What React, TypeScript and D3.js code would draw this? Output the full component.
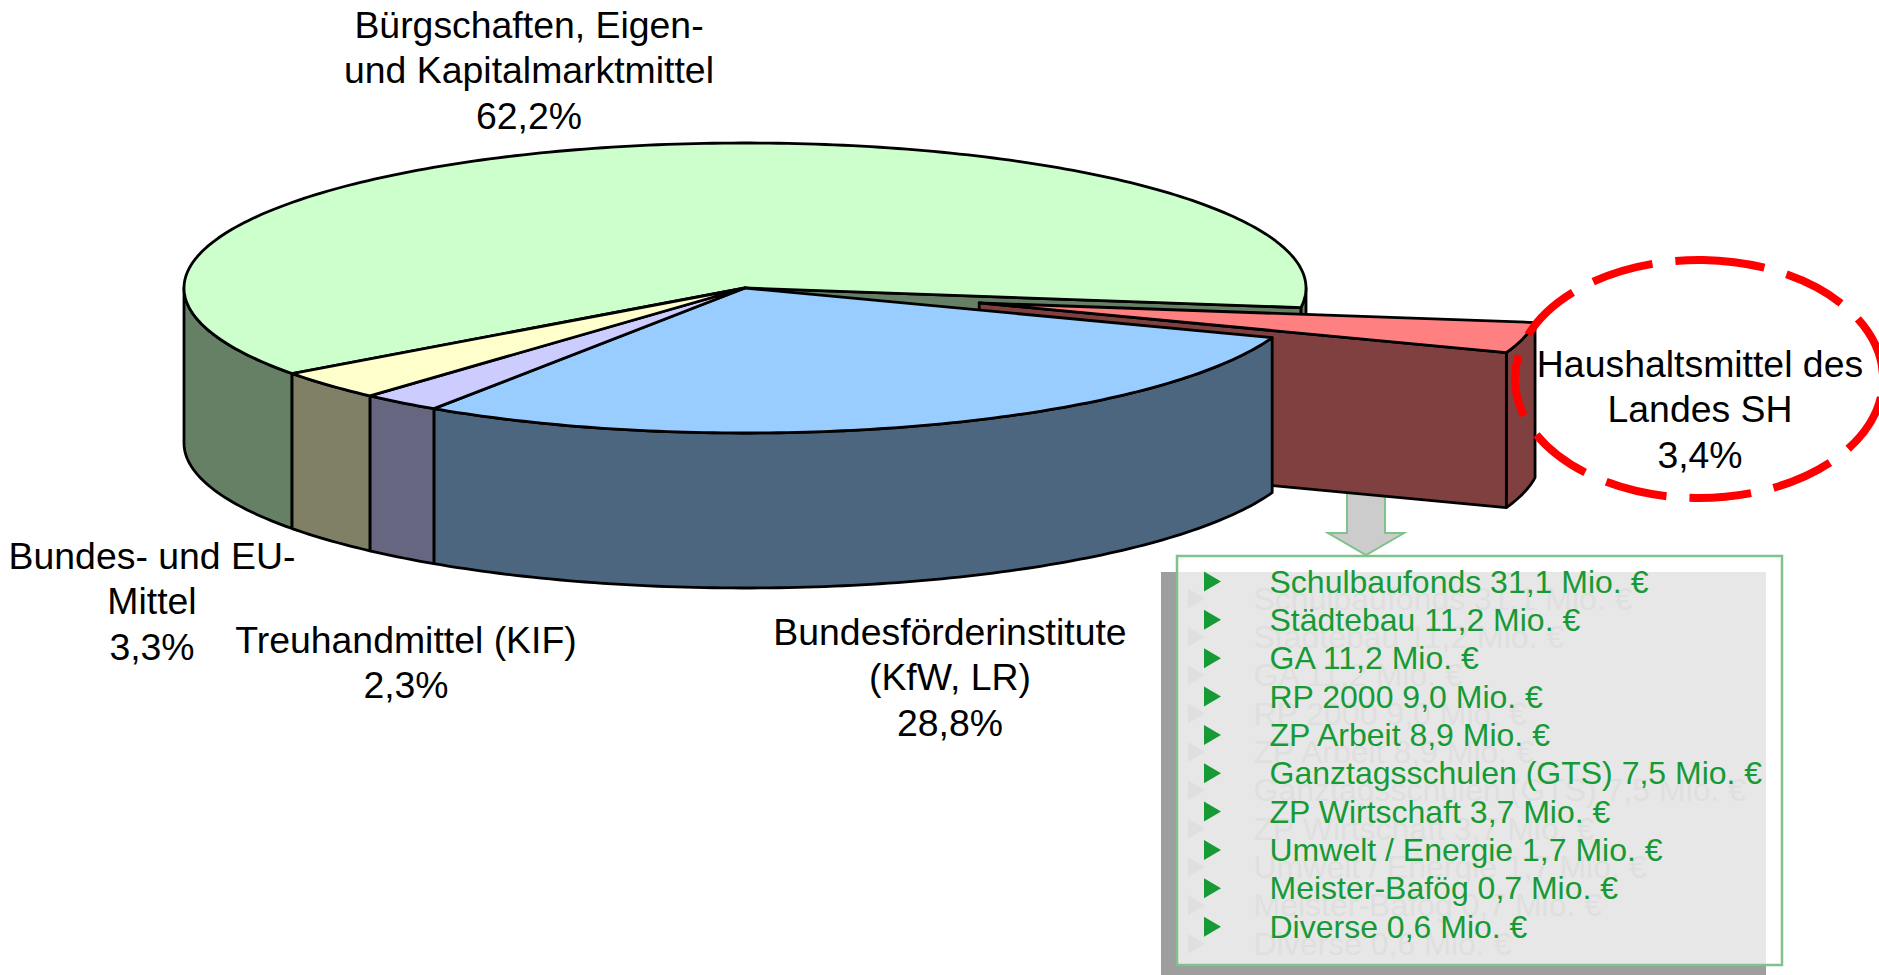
import React from "react";
import * as d3 from "d3";

const shares = [28.8, 2.3, 3.3, 62.2, 3.4];
const topColors = ["#99CCFF", "#CCCCFF", "#FFFFCC", "#CCFFCC", "#FF8080"];
const wallColors = ["#4D6680", "#666680", "#808066", "#668066", "#804040"];
const explodedIndex = 4;
const backIndex = 3;

const pieLabels = [
  ["Bundesförderinstitute", "(KfW, LR)", "28,8%"],
  ["Treuhandmittel (KIF)", "2,3%"],
  ["Bundes- und EU-", "Mittel", "3,3%"],
  ["Bürgschaften, Eigen-", "und Kapitalmarktmittel", "62,2%"],
  ["Haushaltsmittel des", "Landes SH", "3,4%"],
];
const labelCenterX = [950, 406, 152, 529, 1700];
const labelFirstY = [645, 653, 569, 38, 377];

const listItems = [
  "Schulbaufonds 31,1 Mio. €",
  "Städtebau 11,2 Mio. €",
  "GA 11,2 Mio. €",
  "RP 2000 9,0 Mio. €",
  "ZP Arbeit 8,9 Mio. €",
  "Ganztagsschulen (GTS) 7,5 Mio. €",
  "ZP Wirtschaft 3,7 Mio. €",
  "Umwelt / Energie 1,7 Mio. €",
  "Meister-Bafög 0,7 Mio. €",
  "Diverse 0,6 Mio. €",
];

const W = 1879, H = 975;
const cx = 745, cy = 288, rx = 561, ry = 145, depth = 155;
const explode = 0.43;
const startDeg = 20;
const FONT = "'Liberation Sans', Arial, sans-serif";

const pieGen = d3.pie<number>().sort(null).value((d) => d)
  .startAngle((startDeg * Math.PI) / 180)
  .endAngle(((startDeg + 360) * Math.PI) / 180);
const arcs = pieGen(shares);
const lineGen = d3.line<[number, number]>();

type P = [number, number];

function center(i: number): P {
  if (i !== explodedIndex) return [cx, cy];
  const m = (arcs[i].startAngle + arcs[i].endAngle) / 2;
  return [cx + explode * rx * Math.cos(m), cy + explode * ry * Math.sin(m)];
}
function rimPts(i: number, a0: number, a1: number, dy = 0): P[] {
  const [x, y] = center(i);
  const n = Math.max(2, Math.ceil(Math.abs(a1 - a0) * 60));
  return d3.range(n + 1).map((k) => {
    const a = a0 + ((a1 - a0) * k) / n;
    return [x + rx * Math.cos(a), y + ry * Math.sin(a) + dy] as P;
  });
}
function topPath(i: number) {
  return lineGen([center(i), ...rimPts(i, arcs[i].startAngle, arcs[i].endAngle)]) + "Z";
}
function wallPath(i: number, a0: number, a1: number) {
  return lineGen([...rimPts(i, a0, a1), ...rimPts(i, a0, a1, depth).reverse()]) + "Z";
}
function cutPath(i: number, a: number) {
  const c = center(i);
  const r = rimPts(i, a, a)[0];
  return lineGen([c, r, [r[0], r[1] + depth], [c[0], c[1] + depth]]) + "Z";
}
function walls(i: number): [number, number][] {
  const s = arcs[i].startAngle, e = arcs[i].endAngle, out: [number, number][] = [];
  [0, 2 * Math.PI].forEach((o) => {
    const a = Math.max(s, o), b = Math.min(e, o + Math.PI);
    if (b > a) out.push([a, b]);
  });
  return out;
}

function Slice({ i, cut }: { i: number; cut?: number }) {
  return (
    <g stroke="#000" strokeWidth={2.8} strokeLinejoin="round">
      {walls(i).map(([a, b], k) => (
        <path key={k} d={wallPath(i, a, b)} fill={wallColors[i]} />
      ))}
      {cut !== undefined && <path d={cutPath(i, cut)} fill={wallColors[i]} />}
      <path d={topPath(i)} fill={topColors[i]} />
    </g>
  );
}

const listX = 1269.5, listY0 = 592.5, listStep = 38.35;
const ringPath = "M1703,260 A184,119 0 1 1 1695,498 A184,119 0 1 1 1703,260";

export default function App() {
  return (
    <svg width={W} height={H} viewBox={`0 0 ${W} ${H}`}
      style={{ position: "fixed", left: 0, top: 0, background: "#fff" }} fontFamily={FONT}>
      <path d="M1347,488 V533 H1328 L1366,555 L1404,533 H1385 V488 Z" fill="#CCCCCC" stroke="#7FC28A" strokeWidth={2} />
      <Slice i={backIndex} cut={arcs[backIndex].endAngle} />
      <Slice i={explodedIndex} cut={arcs[explodedIndex].endAngle} />
      {[0, 1, 2].map((i) => <Slice key={i} i={i} />)}

      <rect x={1161} y={572} width={605} height={403} fill="#9E9E9E" />
      <rect x={1177} y={556} width={605} height={409} fill="#fff" fillOpacity={0.75} stroke="#7FC28A" strokeWidth={2.5} />
      {listItems.map((t, i) => {
        const y = listY0 + i * listStep;
        const tri = (dx: number, dy: number) => `M${1204 + dx},${y - 21 + dy} L${1221 + dx},${y - 11 + dy} L${1204 + dx},${y - 1 + dy} Z`;
        return (
          <g key={t} fontSize={32}>
            <path d={tri(-16, 17)} fill="#DFDFDF" />
            <text x={listX - 16} y={y + 17} fill="#DFDFDF">{t}</text>
            <path d={tri(0, 0)} fill="#169A36" />
            <text x={listX} y={y} fill="#169A36">{t}</text>
          </g>
        );
      })}

      <path d={ringPath} fill="none" stroke="#FF0000" strokeWidth={8} strokeDasharray="62 23" />
      {pieLabels.map((lines, i) => (
        <text key={i} textAnchor="middle" fontSize={37.4} fill="#000">
          {lines.map((l, k) => (
            <tspan key={k} x={labelCenterX[i]} y={labelFirstY[i] + k * 45.4}>{l}</tspan>
          ))}
        </text>
      ))}
    </svg>
  );
}
